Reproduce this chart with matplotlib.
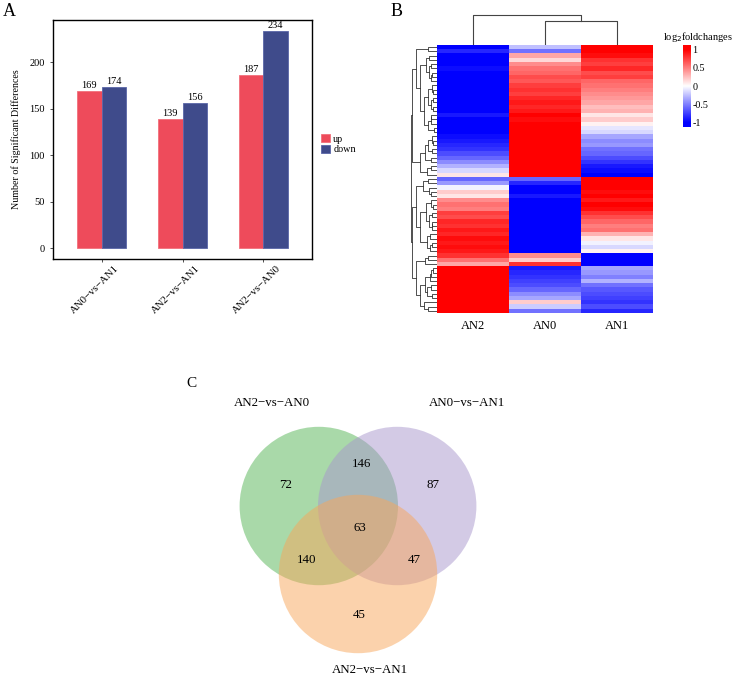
import numpy as np
import matplotlib
matplotlib.use('Agg')
import matplotlib.pyplot as plt
import matplotlib.transforms as mtransforms
from matplotlib.colors import LinearSegmentedColormap
from matplotlib.patches import Circle

plt.rcParams['font.family'] = ['Liberation Serif', 'DejaVu Serif']

# ---- data ----
comparisons = ['AN0\u2212vs\u2212AN1', 'AN2\u2212vs\u2212AN1', 'AN2\u2212vs\u2212AN0']
up_counts = [169, 139, 187]
down_counts = [174, 156, 234]

samples = ['AN2', 'AN0', 'AN1']
an2_fc = [-1, -0.85, -1, -1, -1, -0.95, -1, -1, -1, -1,
          -1, -1, -1, -1, -1, -1, -0.9, -1, -1, -1,
          -1, -0.95, -0.9, -0.85, -0.8, -0.7, -0.6, -0.45, -0.3, -0.15,
          0.1, -0.6, -0.4, -0.05, 0.2, 0.1, 0.45, 0.55, 0.5, 0.75,
          0.7, 0.85, 0.8, 0.9, 0.85, 0.95, 0.9, 0.95, 0.9, 0.8,
          0.55, 0.35, 1, 1, 1, 1, 1, 1, 1, 1,
          1, 1, 1]
an0_fc = [-0.25, -0.55, 0.35, 0.15, 0.45, 0.55, 0.6, 0.7, 0.65, 0.75,
          0.8, 0.75, 0.85, 0.9, 0.85, 0.9, 1, 0.95, 1, 1,
          1, 1, 1, 1, 1, 1, 1, 1, 1, 1,
          1, -0.6, -0.85, -1, -1, -0.9, -1, -1, -1, -1,
          -1, -1, -1, -1, -1, -1, -1, -1, -1, 0.45,
          0.2, 0.8, -0.9, -0.85, -0.8, -0.75, -0.7, -0.6, -0.45, -0.35,
          0.2, -0.2, -0.55]
an1_fc = [1, 1, 0.95, 0.8, 0.75, 0.85, 0.7, 0.75, 0.6, 0.55,
          0.5, 0.45, 0.4, 0.35, 0.25, 0.3, 0.1, 0.2, 0.05, -0.1,
          -0.15, -0.35, -0.45, -0.4, -0.55, -0.6, -0.7, -0.8, -0.9, -0.95,
          -1, 1, 1, 1, 0.95, 1, 0.9, 1, 0.95, 0.8,
          0.7, 0.6, 0.5, 0.55, 0.3, 0.1, -0.05, -0.15, 0.05, -1,
          -1, -1, -0.35, -0.4, -0.5, -0.3, -0.55, -0.65, -0.7, -0.75,
          -0.8, -0.7, -0.85]

venn_sets = ['AN2\u2212vs\u2212AN0', 'AN0\u2212vs\u2212AN1', 'AN2\u2212vs\u2212AN1']
venn_regions = ['100', '110', '010', '111', '101', '011', '001']
venn_counts = [72, 146, 87, 63, 140, 47, 45]

red = '#EE4B5B'
blue = '#3F4B8B'
venn_colors = ['#55B455', '#A896CD', '#F8A65A']


def ordered_linkage(X):
    # complete linkage, only neighbours may merge (keeps the leaf order)
    n = len(X)
    D = np.sqrt(((X[:, None, :] - X[None, :, :]) ** 2).sum(-1))
    groups = [[i] for i in range(n)]
    pos = [float(i) for i in range(n)]
    hts = [0.0] * n
    segs = []
    while len(groups) > 1:
        d = [D[np.ix_(groups[k], groups[k + 1])].max() for k in range(len(groups) - 1)]
        k = int(np.argmin(d))
        h = max(d[k], hts[k], hts[k + 1])
        segs.append((pos[k], hts[k], pos[k + 1], hts[k + 1], h))
        groups[k] = groups[k] + groups[k + 1]
        del groups[k + 1]
        pos[k] = (pos[k] + pos[k + 1]) / 2
        del pos[k + 1]
        hts[k] = h
        del hts[k + 1]
    return segs, hts[0]


W, H = 732, 676
fig = plt.figure(figsize=(W / 100, H / 100), dpi=100)


def px_axes(x0, y0, x1, y1):
    return fig.add_axes([x0 / W, 1 - y1 / H, (x1 - x0) / W, (y1 - y0) / H])


# ---- A: bar chart ----
ax = px_axes(53, 20, 312, 259)
x = np.arange(1, len(comparisons) + 1)
b1 = ax.bar(x - 0.15, up_counts, 0.3, color=red, edgecolor='#F2707C', linewidth=0.6)
b2 = ax.bar(x + 0.15, down_counts, 0.3, color=blue, edgecolor='#5A66A8', linewidth=0.6)
for xi, v in zip(x - 0.15, up_counts):
    ax.text(xi, v + 1, str(v), ha='center', va='bottom', fontsize=7.5)
for xi, v in zip(x + 0.15, down_counts):
    ax.text(xi, v + 1, str(v), ha='center', va='bottom', fontsize=7.5)
ax.set_xlim(0.4, 3.6)
ax.set_ylim(-11.7, 245.7)
ax.set_yticks([0, 50, 100, 150, 200])
ax.set_xticks(x)
ax.set_xticklabels([])
# rotated category labels, shifted a bit to the right like the original
shift = mtransforms.ScaledTranslation(13 / 100, -5 / 100, fig.dpi_scale_trans)
for xi, lab in zip(x, comparisons):
    ax.text(xi, 0, lab, transform=ax.get_xaxis_transform() + shift,
            rotation=45, ha='right', va='top', rotation_mode='anchor', fontsize=7.8)
ax.tick_params(axis='y', labelsize=7.5, length=2.5, width=0.6, colors='#333333', labelcolor='black')
ax.tick_params(axis='x', length=2.5, width=0.6, colors='#333333')
for s in ax.spines.values():
    s.set_linewidth(1.0)
ax.set_ylabel('Number of Significant Differences', fontsize=7.2, labelpad=6)
fig.legend([b1, b2], ['up', 'down'], loc='upper left',
           bbox_to_anchor=(321 / W, 1 - 134 / H), frameon=False, fontsize=7.3,
           handlelength=0.9, handleheight=0.9, handletextpad=0.3,
           labelspacing=0.1, borderpad=0, borderaxespad=0)
fig.text(3 / W, 1 - 16 / H, 'A', fontsize=13)

# ---- B: heatmap ----
fc = np.column_stack([an2_fc, an0_fc, an1_fc])
cmap = LinearSegmentedColormap.from_list('bwr2', ['#0000FF', '#FFFFFF', '#FF0000'])
axh = px_axes(437, 45, 653, 313)
axh.imshow(fc, cmap=cmap, vmin=-1, vmax=1, aspect='auto', interpolation='nearest')
axh.set_yticks([])
axh.set_xticks(range(len(samples)))
axh.set_xticklabels(samples, fontsize=9)
axh.tick_params(axis='x', length=0, pad=5)
for s in axh.spines.values():
    s.set_visible(False)

# row dendrogram
axr = px_axes(411, 45, 437, 313)
segs, top = ordered_linkage(fc)
for p1, h1, p2, h2, h in segs:
    axr.plot([h1 ** 0.5, h ** 0.5, h ** 0.5, h2 ** 0.5], [p1, p1, p2, p2],
             color='#333333', lw=0.6)
axr.set_xlim(top ** 0.5 * 1.01, 0)
axr.set_ylim(len(fc) - 0.5, -0.5)
axr.axis('off')

# column dendrogram
axc = px_axes(437, 13, 653, 45)
segs_c, top_c = ordered_linkage(fc.T)
for p1, h1, p2, h2, h in segs_c:
    axc.plot([p1, p1, p2, p2], [h1, h, h, h2], color='#444444', lw=0.8)
axc.set_xlim(-0.5, len(samples) - 0.5)
axc.set_ylim(0, top_c * 1.05)
axc.axis('off')

# colour key
axk = px_axes(683, 45, 691, 127)
axk.imshow(np.linspace(-1.12, 1.12, 200)[:, None], cmap=cmap, vmin=-1, vmax=1,
           aspect='auto', origin='lower', extent=[0, 1, -1.12, 1.12])
axk.set_xticks([])
axk.yaxis.tick_right()
axk.set_yticks([1, 0.5, 0, -0.5, -1])
axk.set_yticklabels(['1', '0.5', '0', '-0.5', '-1'], fontsize=7.3)
axk.tick_params(axis='y', length=0, pad=1)
for s in axk.spines.values():
    s.set_visible(False)
fig.text(663 / W, 1 - 37 / H, 'log$_2$foldchanges', fontsize=7.5, va='center')
fig.text(391 / W, 1 - 16 / H, 'B', fontsize=13)

# ---- C: venn ----
axv = px_axes(198, 370, 518, 676)
axv.set_xlim(-2, 2)
axv.set_ylim(-1.8375, 1.9875)
axv.axis('off')
circle_xy = [(-0.49, 0.2875), (0.49, 0.2875), (0.0, -0.5625)]
for (cx, cy), col in zip(circle_xy, venn_colors):
    axv.add_patch(Circle((cx, cy), 0.99, facecolor=col, edgecolor='none', alpha=0.5))
region_xy = {'100': (-0.9, 0.55), '110': (0.04, 0.81), '010': (0.94, 0.55),
             '111': (0.02, 0.01), '101': (-0.64, -0.39), '011': (0.7, -0.39),
             '001': (0.02, -1.075)}
for key, n in zip(venn_regions, venn_counts):
    rx, ry = region_xy[key]
    axv.text(rx, ry, str(n), ha='center', va='center', fontsize=9.3)
set_xy = [(-1.075, 1.575), (1.36, 1.575), (0.15, -1.765)]
for (sx, sy), name in zip(set_xy, venn_sets):
    axv.text(sx, sy, name, ha='center', va='center', fontsize=9.3)
fig.text(186 / W, 1 - 387 / H, 'C', fontsize=11)

fig.savefig('out.png', dpi=100)
